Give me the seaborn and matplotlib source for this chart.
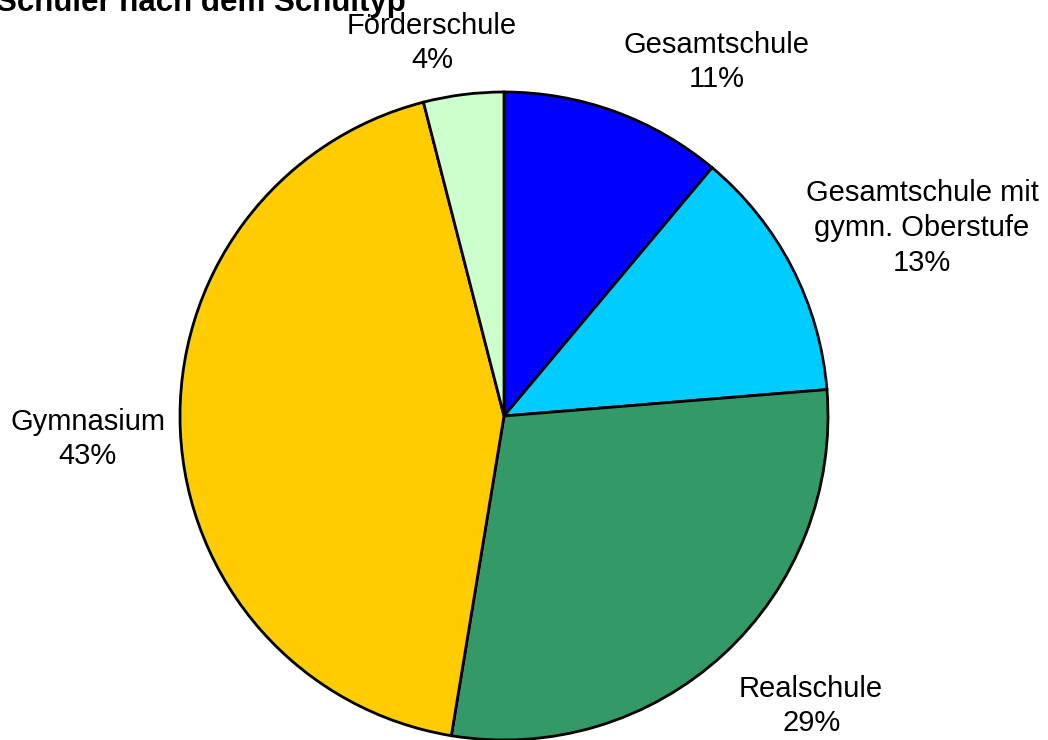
import matplotlib
matplotlib.use("Agg")
import matplotlib.pyplot as plt
import seaborn as sns

sns.set_theme(style="white")
plt.rcParams["font.family"] = ["Liberation Sans", "DejaVu Sans"]

# data, clockwise from 12 o'clock
schools = ["Gesamtschule", "Gesamtschule mit\ngymn. Oberstufe", "Realschule", "Gymnasium", "Förderschule"]
shares = [11.1, 12.6, 28.9, 43.4, 4.0]
colors = ["#0000FF", "#00CCFF", "#339966", "#FFCC00", "#CCFFCC"]
# label anchor points (pie radius = 1)
label_x = [0.657, 1.290, 0.948, -1.284, -0.222]
label_y = [1.093, 0.580, -0.895, -0.071, 1.151]

fig = plt.figure(figsize=(10.48, 7.40), dpi=100)
ax = fig.add_axes([0, 0, 1, 1])
ax.pie(shares, colors=colors, startangle=90, counterclock=False,
       wedgeprops=dict(edgecolor="black", linewidth=2), radius=1)
ax.set_xlim(-504 / 324, 544 / 324)
ax.set_ylim(-324 / 324, 416 / 324)
ax.set_aspect("auto")
ax.axis("off")

for name, v, x, y in zip(schools, shares, label_x, label_y):
    ax.text(x, y, f"{name}\n{round(v):d}%", ha="center", va="center",
            fontsize=21, color="black", linespacing=1.3)

fig.text(-0.004, 1 - 11 / 740, "Schüler nach dem Schultyp", fontsize=22.5,
         fontweight="bold", ha="left", va="baseline", color="black")

fig.savefig("out.png", dpi=100)
